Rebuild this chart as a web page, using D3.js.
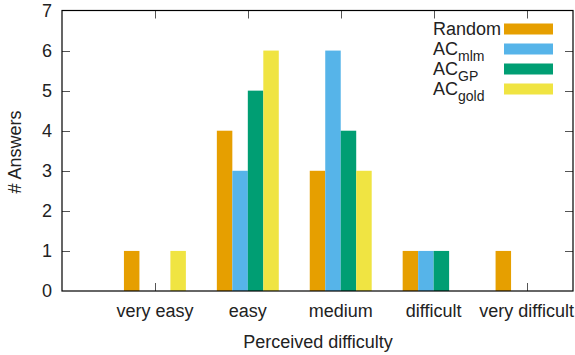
<!DOCTYPE html>
<html>
<head>
<meta charset="utf-8">
<script src="https://cdn.jsdelivr.net/npm/d3@7"></script>
<style>
body{margin:0;background:#fff;}
text{font-family:"Liberation Sans",Arial,sans-serif;fill:#222;}
</style>
</head>
<body>
<div id="chart"></div>
<script>
var w=575,h=355;

var categories=["very easy","easy","medium","difficult","very difficult"];
var seriesNames=["Random","AC_mlm","AC_GP","AC_gold"];
var random=[1,4,3,1,1];
var acMlm=[0,3,6,1,0];
var acGP=[0,5,4,1,0];
var acGold=[1,6,3,0,0];
var colors=["#E69F00","#56B4E9","#009E73","#F0E442"];
var yTicks=[0,1,2,3,4,5,6,7];

var allSeries=[random,acMlm,acGP,acGold];

var pLeft=62,pRight=573,pTop=10.5,pBottom=291;

var svg=d3.select("#chart")
 .append("svg")
 .attr("width",w)
 .attr("height",h);

// x position: category index -> pixel
var x=d3.scaleLinear().domain([-1,4.5]).range([pLeft,pRight]);
var step=x(1)-x(0);
var inner=d3.scaleBand().domain(d3.range(seriesNames.length))
 .range([-step/3,step/3]);
var y=d3.scaleLinear().domain([0,7]).range([pBottom,pTop]);

// ticks (drawn first so bars cover them)
var tk=svg.append("g").attr("stroke","#555").attr("stroke-width",1);
yTicks.slice(1,7).forEach(function(v){
 var py=Math.round(y(v))+0.5;
 tk.append("line").attr("x1",pLeft).attr("x2",pLeft+8).attr("y1",py).attr("y2",py);
 tk.append("line").attr("x1",pRight-8).attr("x2",pRight).attr("y1",py).attr("y2",py);
});
categories.forEach(function(c,i){
 var px=Math.round(x(i))+0.5;
 tk.append("line").attr("x1",px).attr("x2",px).attr("y1",pBottom).attr("y2",pBottom-8);
 tk.append("line").attr("x1",px).attr("x2",px).attr("y1",pTop).attr("y2",pTop+8);
});

// bars
allSeries.forEach(function(vals,s){
 svg.append("g").selectAll("rect")
  .data(vals)
  .enter()
  .append("rect")
  .attr("x",function(d,i){return x(i)+inner(s)})
  .attr("width",inner.bandwidth())
  .attr("y",function(d){return y(d)})
  .attr("height",function(d){return pBottom-y(d)})
  .style("fill",colors[s]);
});

// border
svg.append("rect")
 .attr("x",pLeft).attr("y",pTop)
 .attr("width",pRight-pLeft).attr("height",pBottom-pTop)
 .style("fill","none").style("stroke","#000").style("stroke-width",1.2);

// y tick labels
svg.append("g").selectAll("text")
 .data(yTicks)
 .enter()
 .append("text")
 .attr("x",52)
 .attr("y",function(d){return y(d)})
 .attr("dy","0.36em")
 .attr("text-anchor","end")
 .style("font-size","18px")
 .text(function(d){return d});

// x tick labels
svg.append("g").selectAll("text")
 .data(categories)
 .enter()
 .append("text")
 .attr("x",function(d,i){return x(i)})
 .attr("y",317)
 .attr("text-anchor","middle")
 .style("font-size","18px")
 .text(function(d){return d});

svg.append("text")
 .attr("x",318).attr("y",348)
 .attr("text-anchor","middle")
 .style("font-size","18px")
 .text("Perceived difficulty");

svg.append("text")
 .attr("transform","translate(21,152) rotate(-90)")
 .attr("text-anchor","middle")
 .style("font-size","18px")
 .text("# Answers");

// legend
var lg=svg.append("g");
seriesNames.forEach(function(n,i){
 var ly=29+i*20;
 var t=lg.append("text").attr("x",433).attr("y",ly).attr("dy","0.36em").style("font-size","18px");
 var parts=n.split("_");
 t.append("tspan").text(parts[0]);
 if(parts[1]){
  t.append("tspan").attr("dy","0.4em").style("font-size","14px").text(parts[1]);
 }
 lg.append("rect").attr("x",504).attr("y",ly-5.5).attr("width",49).attr("height",11).style("fill",colors[i]);
});
</script>
</body>
</html>
